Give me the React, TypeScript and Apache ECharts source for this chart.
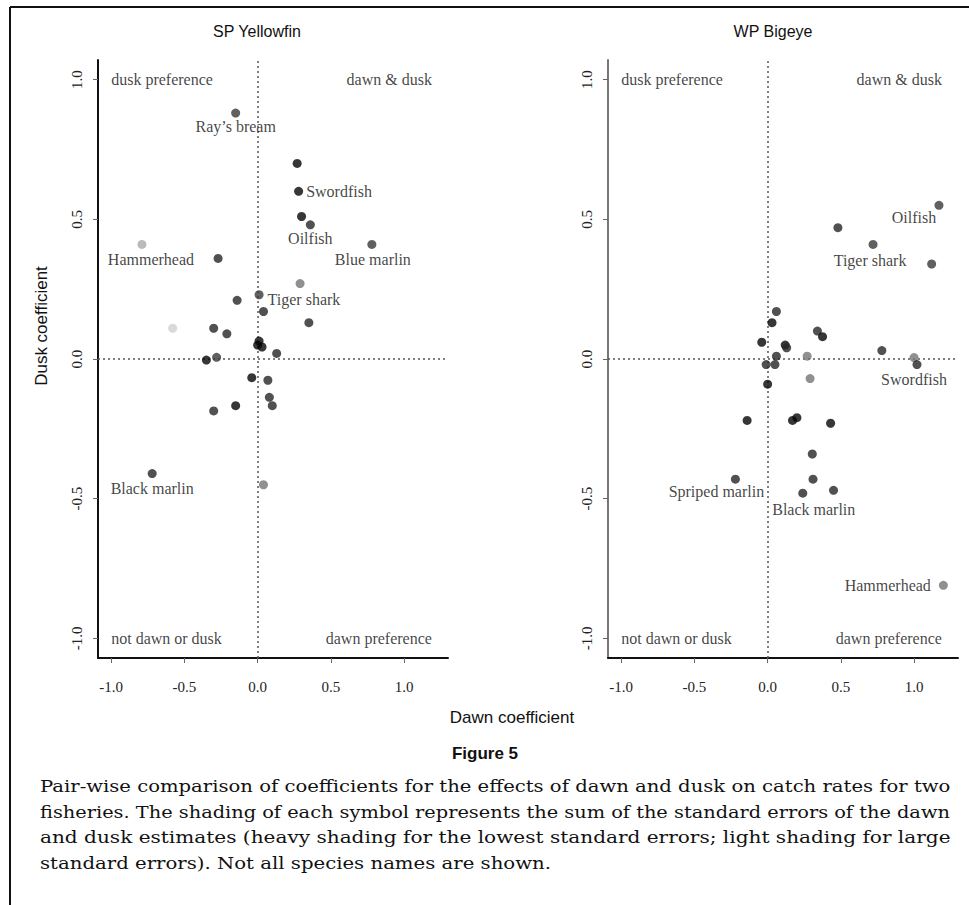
import React, { useEffect, useRef } from "react";
import * as echarts from "echarts";

// ---------- data ----------
const TICKS = [-1, -0.5, 0, 0.5, 1];

// SP Yellowfin
const spDawn = [-0.15, 0.27, 0.28, 0.30, 0.36, 0.78, -0.79, -0.27, 0.29, 0.01, -0.14, 0.04, 0.35, -0.58, -0.30, -0.21, 0.00, 0.01, 0.03, 0.13, -0.35, -0.28, -0.04, 0.07, 0.08, 0.10, -0.15, -0.30, -0.72, 0.04];
const spDusk = [0.88, 0.70, 0.60, 0.51, 0.48, 0.41, 0.41, 0.36, 0.27, 0.23, 0.21, 0.17, 0.13, 0.11, 0.11, 0.09, 0.05, 0.064, 0.043, 0.02, -0.004, 0.006, -0.067, -0.076, -0.137, -0.167, -0.167, -0.186, -0.41, -0.45];
const spSE = [3, 1, 1, 1, 2, 3, 5, 2, 4, 3, 2, 2, 2, 6, 2, 2, 1, 1, 1, 2, 1, 3, 1, 2, 2, 2, 1, 2, 2, 4];
const spNames = ["Ray’s bream", "", "Swordfish", "", "Oilfish", "Blue marlin", "Hammerhead", "", "", "Tiger shark", "", "", "", "", "", "", "", "", "", "", "", "", "", "", "", "", "", "", "Black marlin", ""];

// WP Bigeye
const wpDawn = [1.17, 0.48, 0.72, 1.12, 0.06, 0.03, -0.04, 0.12, 0.13, 0.34, 0.375, 0.78, 1.0, 0.06, 0.27, 1.02, -0.01, 0.05, 0.29, 0.0, -0.14, 0.17, 0.20, 0.43, 0.305, -0.22, 0.31, 0.24, 0.45, 1.2];
const wpDusk = [0.55, 0.47, 0.41, 0.34, 0.17, 0.13, 0.06, 0.05, 0.04, 0.10, 0.08, 0.03, 0.005, 0.01, 0.01, -0.02, -0.02, -0.02, -0.07, -0.09, -0.22, -0.22, -0.21, -0.23, -0.34, -0.43, -0.43, -0.48, -0.47, -0.81];
const wpSE = [3, 2, 3, 3, 2, 1, 1, 1, 2, 2, 1, 2, 4, 2, 4, 2, 2, 2, 4, 1, 1, 1, 1, 1, 2, 2, 2, 2, 2, 4];
const wpNames = ["Oilfish", "", "Tiger shark", "", "", "", "", "", "", "", "", "", "", "", "", "Swordfish", "", "", "", "", "", "", "", "", "", "Spriped marlin", "", "Black marlin", "", "Hammerhead"];

const quadText = ["dusk preference", "dawn & dusk", "not dawn or dusk", "dawn preference"];
const quadX = [-1.0, 1.19, -1.0, 1.19];
const quadY = [1.0, 1.0, -1.0, -1.0];

const panelTitles = ["SP Yellowfin", "WP Bigeye"];
const captionLines = [
  "Pair-wise comparison of coefficients for the effects of dawn and dusk on catch rates for two",
  "fisheries. The shading of each symbol represents the sum of the standard errors of the dawn",
  "and dusk estimates (heavy shading for the lowest standard errors; light shading for large",
  "standard errors). Not all species names are shown.",
];

// ---------- styles ----------
const SHADES = ["#050505", "#262626", "#383838", "#747474", "#a9a9a9", "#d0d0d0"];
const SERIF = "'Liberation Serif', 'Times New Roman', serif";
const SANS = "'Liberation Sans', Arial, sans-serif";
const CAPTION_FONT = "16.5px 'DejaVu Serif', serif";

const spPlace: Record<string, any> = {
  "Ray’s bream": { position: "bottom", distance: 1, offset: [0, 0] },
  Swordfish: { position: "right", distance: 3, offset: [0, 0] },
  Oilfish: { position: "bottom", distance: 1, offset: [0, 0] },
  "Blue marlin": { position: "bottom", distance: 3, offset: [1, 0] },
  Hammerhead: { position: "bottom", distance: 3, offset: [9, 0] },
  "Tiger shark": { position: "right", distance: 4, offset: [0, 5] },
  "Black marlin": { position: "bottom", distance: 2, offset: [0, 0] },
};
const wpPlace: Record<string, any> = {
  Oilfish: { position: "bottom", distance: 0, offset: [-25, 0] },
  "Tiger shark": { position: "bottom", distance: 4, offset: [-3, 0] },
  Swordfish: { position: "bottom", distance: 2, offset: [-3, 0] },
  "Spriped marlin": { position: "bottom", distance: 0, offset: [-19, 0] },
  "Black marlin": { position: "bottom", distance: 4, offset: [11, 0] },
  Hammerhead: { position: "left", distance: 8, offset: [0, 0] },
};

function buildPoints(dawn: number[], dusk: number[], se: number[], names: string[], place: Record<string, any>) {
  return dawn.map((x, i) => {
    const d: any = { value: [x, dusk[i]], itemStyle: { color: SHADES[se[i] - 1] } };
    if (names[i]) {
      const p = place[names[i]] || { position: "bottom" };
      d.label = {
        show: true,
        formatter: names[i],
        position: p.position,
        distance: p.distance,
        offset: p.offset,
        fontFamily: SERIF,
        fontSize: 16,
        color: "#111",
      };
    }
    return d;
  });
}

function axisPair(idx: number, yAxisColor: string) {
  const x = {
    gridIndex: idx,
    type: "value",
    min: -1.09,
    max: 1.3,
    axisLine: { show: true, onZero: false, lineStyle: { color: "#111", width: 2 } },
    axisTick: { show: true, length: 5, customValues: TICKS, lineStyle: { color: "#666", width: 1 } },
    axisLabel: {
      customValues: TICKS,
      formatter: (v: number) => v.toFixed(1),
      margin: 21,
      fontFamily: SERIF,
      fontSize: 15,
      color: "#222",
    },
    splitLine: { show: false },
  };
  const y = {
    gridIndex: idx,
    type: "value",
    min: -1.07,
    max: 1.07,
    axisLine: { show: true, onZero: false, lineStyle: { color: yAxisColor, width: 2 } },
    axisTick: { show: true, length: 5, customValues: TICKS, lineStyle: { color: "#666", width: 1 } },
    axisLabel: {
      customValues: TICKS,
      formatter: (v: number) => v.toFixed(1),
      rotate: 90,
      margin: 14,
      fontFamily: SERIF,
      fontSize: 15,
      color: "#222",
    },
    splitLine: { show: false },
  };
  return { x, y };
}

function refLines() {
  return {
    silent: true,
    symbol: ["none", "none"],
    label: { show: false },
    lineStyle: { type: [2, 3], color: "#555", width: 1.5 },
    data: [{ xAxis: 0 }, { yAxis: 0 }],
    z: 1,
  };
}

function quadSeries(idx: number) {
  return {
    type: "scatter",
    xAxisIndex: idx,
    yAxisIndex: idx,
    symbolSize: 1,
    itemStyle: { color: "transparent" },
    silent: true,
    data: quadText.map((t, i) => ({
      value: [quadX[i], quadY[i]],
      label: {
        show: true,
        formatter: t,
        position: "inside",
        align: i % 2 === 0 ? "left" : "right",
        verticalAlign: "middle",
        fontFamily: SERIF,
        fontSize: 16,
        color: "#111",
      },
    })),
  };
}

function captionScales(): number[] {
  const target = 911;
  let widths: number[] = [];
  try {
    const ctx = document.createElement("canvas").getContext("2d");
    if (ctx) {
      ctx.font = CAPTION_FONT;
      widths = captionLines.map((t) => ctx.measureText(t).width);
    }
  } catch (e) {
    widths = [];
  }
  if (widths.length !== captionLines.length || widths.some((w) => !w)) {
    return captionLines.map(() => 1.16);
  }
  const justified = widths.slice(0, 3).map((w) => target / w);
  const avg = justified.reduce((a, b) => a + b, 0) / justified.length;
  return [...justified, avg];
}

export default function App() {
  const ref = useRef<HTMLDivElement>(null);
  useEffect(() => {
    if (!ref.current) return;
    const chart = echarts.init(ref.current, null, { renderer: "svg" });
    const a0 = axisPair(0, "#111");
    const a1 = axisPair(1, "#777");
    const scales = captionScales();
    const graphics: any[] = [
      { type: "line", shape: { x1: 10, y1: 7, x2: 969, y2: 7 }, style: { stroke: "#111", lineWidth: 2 } },
      { type: "line", shape: { x1: 10, y1: 7, x2: 10, y2: 905 }, style: { stroke: "#111", lineWidth: 2 } },
      { type: "text", x: 257, y: 31, style: { text: panelTitles[0], font: `16px ${SANS}`, fill: "#111", align: "center", verticalAlign: "middle" } },
      { type: "text", x: 773, y: 31, style: { text: panelTitles[1], font: `16px ${SANS}`, fill: "#111", align: "center", verticalAlign: "middle" } },
      { type: "text", x: 41, y: 326, rotation: Math.PI / 2, style: { text: "Dusk coefficient", font: `17px ${SANS}`, fill: "#111", align: "center", verticalAlign: "middle" } },
      { type: "text", x: 512, y: 717, style: { text: "Dawn coefficient", font: `17px ${SANS}`, fill: "#111", align: "center", verticalAlign: "middle" } },
      { type: "text", x: 485, y: 753, style: { text: "Figure 5", font: `bold 17px ${SANS}`, fill: "#111", align: "center", verticalAlign: "middle" } },
      ...captionLines.map((t, i) => ({
        type: "text",
        x: 40,
        y: 786 + i * 25.7,
        scaleX: scales[i],
        style: { text: t, font: CAPTION_FONT, fill: "#111", align: "left", verticalAlign: "middle" },
      })),
    ];
    chart.setOption({
      animation: false,
      backgroundColor: "#fff",
      grid: [
        { left: 98, top: 60, width: 350, height: 598, containLabel: false },
        { left: 608, top: 60, width: 350, height: 598, containLabel: false },
      ],
      xAxis: [a0.x, a1.x],
      yAxis: [a0.y, a1.y],
      series: [
        {
          type: "scatter",
          xAxisIndex: 0,
          yAxisIndex: 0,
          symbolSize: 9,
          data: buildPoints(spDawn, spDusk, spSE, spNames, spPlace),
          markLine: refLines(),
          z: 3,
        },
        {
          type: "scatter",
          xAxisIndex: 1,
          yAxisIndex: 1,
          symbolSize: 9,
          data: buildPoints(wpDawn, wpDusk, wpSE, wpNames, wpPlace),
          markLine: refLines(),
          z: 3,
        },
        quadSeries(0),
        quadSeries(1),
      ],
      graphic: graphics,
    });
    return () => chart.dispose();
  }, []);
  return <div ref={ref} style={{ position: "absolute", left: 0, top: 0, width: 969, height: 905 }} />;
}
